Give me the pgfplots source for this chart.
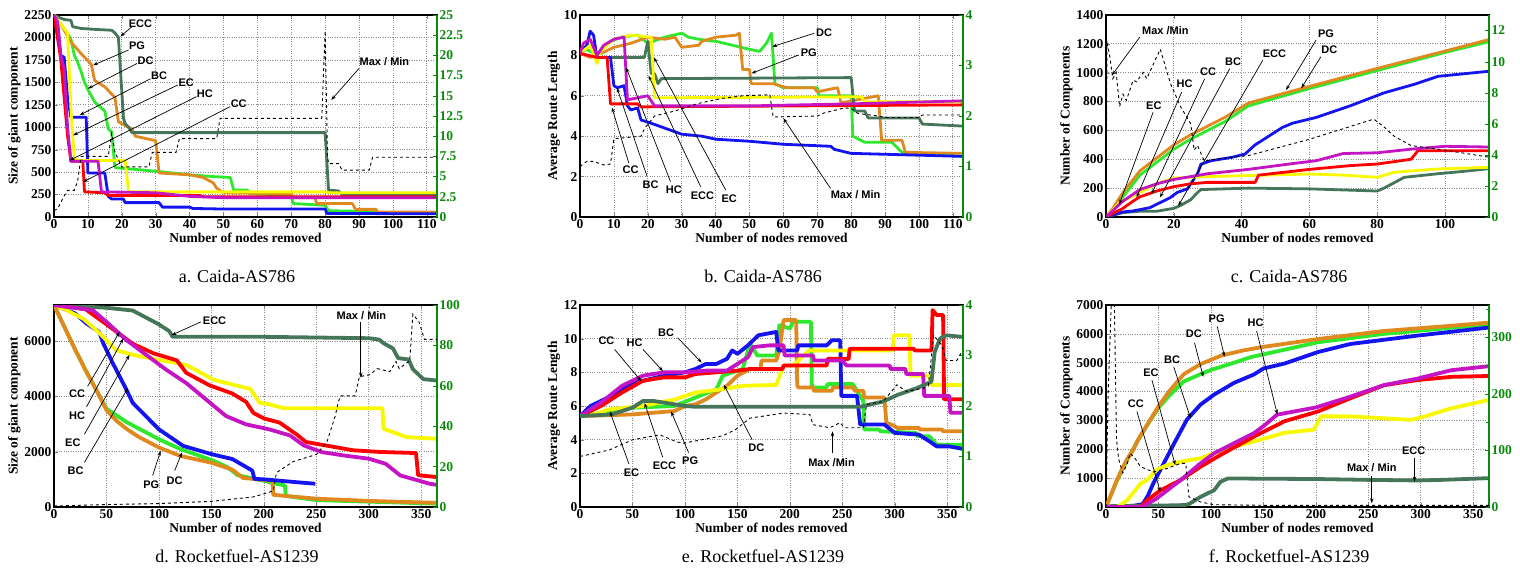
\documentclass[border=0pt]{standalone}
\usepackage{fontspec}
\setmainfont{Liberation Serif}
\newfontfamily\labfont{Liberation Sans}
\usepackage{pgfplots}
\pgfplotsset{compat=1.18}
\usetikzlibrary{arrows.meta}

\definecolor{cECC}{HTML}{46765A}
\definecolor{cPG}{HTML}{E0891E}
\definecolor{cDC}{HTML}{2EE82E}
\definecolor{cBC}{HTML}{1414F0}
\definecolor{cEC}{HTML}{F8F800}
\definecolor{cHC}{HTML}{C414C4}
\definecolor{cCC}{HTML}{FF0000}
\definecolor{rg}{HTML}{0A8A0A}

\newcommand\tk{\bfseries\fontsize{13.5}{13.5}\selectfont}
\newcommand\annfont{\labfont\bfseries\fontsize{11}{11}\selectfont}

\tikzset{
  ar/.style={-{Stealth[length=5pt,width=3.5pt]}, line width=0.7pt},
  lb/.style={font=\annfont, inner sep=1pt},
}
\pgfplotsset{
  base/.style={scale only axis, width=383pt, height=202pt, xmin=0,
    tick label style={font=\tk}, /pgf/number format/assume math mode=true,
    /pgf/number format/1000 sep={}, tick align=inside, major tick length=4pt},
  lefty/.style={base, grid=major, grid style={dotted, black!45, line width=0.7pt},
    axis line style={line width=1.1pt}, ytick pos=left,
    xlabel={Number of nodes removed}, label style={font=\tk},
    xlabel style={yshift=3pt}, ylabel style={yshift=-3pt},
    yticklabel style={xshift=1pt}, xticklabel style={yshift=1pt},
    every axis plot/.append style={line join=round}},
  righty/.style={base, axis y line*=right, axis x line=none, ytick pos=right,
    y axis line style={draw=rg, line width=1.1pt}, yticklabel style={text=rg, xshift=-1pt},
    ytick style={draw=rg}},
  toprow/.style={every axis plot/.append style={line width=2.8pt}},
  botrow/.style={every axis plot/.append style={line width=3.8pt}},
  mm/.style={black, dashed, line width=0.9pt},
}

\begin{document}
\begin{tikzpicture}
\useasboundingbox (0,0) rectangle (1520pt,572pt);

% ---------------- a. Caida-AS786, giant component ----------------
\begin{axis}[lefty, toprow, at={(54pt,355pt)}, anchor=south west,
  xmax=113, ymin=0, ymax=2250, ytick={0,250,...,2250}, xtick={0,10,...,110},
  ylabel={Size of giant component}]
\addplot[cDC] coordinates {(0,2250)(3,2100)(5,1980)(6,1800)(7,1720)(8,1620)(9,1500)(10,1420)(12,1280)(15,1180)(16,980)(17,950)(18,550)(30,510)(40,470)(47,450)(52,440)(53,300)(57,300)(58,260)(70,240)(70.5,150)(80,130)(81,70)(95,60)(96,40)(113,40)};
\addplot[cPG] coordinates {(0,2250)(2,2150)(5,1950)(8,1820)(11,1700)(12,1520)(15,1450)(18,1330)(19,1060)(21,1020)(23,980)(24,900)(30,850)(31,490)(40,470)(44,440)(47,380)(48,320)(50,270)(60,265)(70,260)(70.5,215)(77,215)(77.5,150)(88,150)(89,85)(95,85)(95.5,55)(113,55)};
\addplot[cECC] coordinates {(0,2250)(1,2230)(3,2200)(5,2190)(5.5,2120)(8,2100)(12,2090)(17,2080)(18,2050)(19,2000)(20,1400)(20.5,1100)(21,1040)(22,1000)(23,940)(80,940)(81,300)(84,290)(85,250)(113,250)};
\addplot[cBC] coordinates {(0,2250)(1,2200)(2,1800)(3,1780)(4,1330)(5,1110)(9.5,1110)(10,490)(15,490)(16,230)(17,200)(20.5,200)(21,160)(31,160)(32,110)(40,110)(41,95)(48,90)(80,90)(80.5,40)(113,35)};
\addplot[cEC] coordinates {(0,2250)(4,2050)(5,1200)(6,650)(7,630)(21,630)(22,280)(80,280)(81,270)(113,270)};
\addplot[cCC] coordinates {(0,2250)(2,1750)(4,900)(5,620)(8.5,620)(9,280)(15,270)(16,240)(43,240)(44,225)(113,225)};
\addplot[cHC] coordinates {(0,2250)(1,2180)(2,1800)(3,1650)(4,1000)(5,620)(13,620)(14,280)(30,270)(40,230)(50,215)(80,215)(113,215)};
\draw[ar] (axis cs:23,2120) -- (axis cs:19.6,2010); \node[lb] at (axis cs:25.5,2150) {ECC};
\draw[ar] (axis cs:22,1860) -- (axis cs:11.5,1690); \node[lb] at (axis cs:24.5,1905) {PG};
\draw[ar] (axis cs:24.5,1710) -- (axis cs:10,1430); \node[lb] at (axis cs:27,1740) {DC};
\draw[ar] (axis cs:28.5,1540) -- (axis cs:7.6,1135); \node[lb] at (axis cs:31,1570) {BC};
\draw[ar] (axis cs:36.5,1470) -- (axis cs:5.6,910); \node[lb] at (axis cs:39,1500) {EC};
\draw[ar] (axis cs:42,1340) -- (axis cs:4.6,630); \node[lb] at (axis cs:44.5,1370) {HC};
\draw[ar] (axis cs:52,1230) -- (axis cs:8.6,390); \node[lb] at (axis cs:54.5,1265) {CC};
\draw[ar] (axis cs:90,1655) -- (axis cs:81.8,1303); \node[lb] at (axis cs:97.5,1730) {Max / Min};
\end{axis}
\begin{axis}[righty, at={(54pt,355pt)}, anchor=south west,
  xmax=113, ymin=0, ymax=25, ytick={0,2.5,...,25}]
\addplot[mm] coordinates {(0,0.8)(1,1)(3,2.6)(4,3.3)(6,3.3)(7,4.5)(8,7.5)(16,7.5)(17,10.3)(18,8)(20,6.2)(28,6.2)(29,8)(36,8)(37,9.7)(48,9.7)(49,12.2)(79,12.2)(80,23)(80.7,7.5)(81,6.6)(84,6.6)(85,5.8)(93,5.8)(94,7.4)(113,7.4)};
\end{axis}

% ---------------- b. Caida-AS786, route length ----------------
\begin{axis}[lefty, toprow, at={(580pt,355pt)}, anchor=south west,
  xmax=113, ymin=0, ymax=10, ytick={0,2,...,10}, xtick={0,10,...,110},
  ylabel={Average Route Length}]
\addplot[cDC] coordinates {(0,8.1)(2,8.3)(5,8.0)(8,8.6)(12,8.9)(17,9.0)(20,8.6)(25,8.9)(30,9.1)(32,8.9)(35,8.8)(40,8.7)(45,8.5)(50,8.3)(53,8.2)(55,8.6)(56.5,9.1)(57.5,6.6)(60,6.4)(70,6.4)(70.5,6.0)(80,6.0)(80.5,4.0)(84,3.7)(92,3.7)(95,3.2)(113,3.0)};
\addplot[cPG] coordinates {(0,8.1)(3,7.9)(5,8.0)(10,8.4)(15,8.6)(20,8.9)(25,8.8)(28,8.9)(30,8.4)(35,8.5)(36,8.7)(40,8.9)(46,9.0)(47,9.1)(48,7.3)(50,7.3)(50.5,6.6)(57,6.6)(61,6.4)(69,6.4)(70,6.2)(76,6.4)(77,5.65)(88,6.0)(89,3.8)(95,3.8)(96,3.2)(113,3.15)};
\addplot[cECC] coordinates {(0,8.1)(2,8.5)(4,8.4)(5,7.9)(19,7.9)(20,8.7)(21,7.1)(22,7.1)(23,6.6)(24,6.85)(80,6.9)(81,5.25)(84,5.25)(85,4.9)(100,4.9)(101,4.6)(113,4.5)};
\addplot[cBC] coordinates {(0,8.1)(2,8.5)(3,9.2)(4,9.0)(5,7.9)(9,7.9)(10,6.5)(11,6.4)(13,6.5)(14,5.5)(15,5.3)(17,5.4)(18,4.8)(20,4.7)(25,4.4)(30,4.1)(36,4.0)(40,3.85)(50,3.75)(60,3.6)(74,3.5)(75,3.35)(80,3.15)(113,3.0)};
\addplot[cEC] coordinates {(0,8.1)(3,8.5)(5,7.6)(6,8.2)(10,8.8)(15,9.0)(21,8.9)(22,5.9)(83,5.95)(84,5.7)(113,5.7)};
\addplot[cCC] coordinates {(0,8.1)(5,7.9)(8,7.9)(9,5.6)(17,5.6)(18,5.45)(113,5.55)};
\addplot[cHC] coordinates {(0,8.1)(1,8.6)(3,8.8)(5,8.0)(7,8.5)(10,8.8)(13,8.9)(14,5.8)(17,5.9)(20,6.0)(22,5.5)(50,5.5)(80,5.6)(113,5.75)};
\draw[ar] (axis cs:14.4,2.67) -- (axis cs:9.4,5.42); \node[lb] at (axis cs:14.9,2.33) {CC};
\draw[ar] (axis cs:19.8,2.0) -- (axis cs:10.9,6.4); \node[lb] at (axis cs:20.8,1.6) {BC};
\draw[ar] (axis cs:26.7,1.75) -- (axis cs:13.6,7.4); \node[lb] at (axis cs:27.7,1.33) {HC};
\draw[ar] (axis cs:35.6,1.5) -- (axis cs:20.2,7.0); \node[lb] at (axis cs:36.1,1.05) {ECC};
\draw[ar] (axis cs:43,1.33) -- (axis cs:21.8,7.9); \node[lb] at (axis cs:44,0.92) {EC};
\draw[ar] (axis cs:69,9.09) -- (axis cs:56.7,8.43); \node[lb] at (axis cs:72,9.14) {DC};
\draw[ar] (axis cs:64.5,8.02) -- (axis cs:50.6,7.11); \node[lb] at (axis cs:67.5,8.15) {PG};
\draw[ar] (axis cs:73.9,1.42) -- (axis cs:60,4.89); \node[lb] at (axis cs:81.3,1.09) {Max / Min};
\end{axis}
\begin{axis}[righty, at={(580pt,355pt)}, anchor=south west,
  xmax=113, ymin=0, ymax=4, ytick={0,1,...,4}]
\addplot[mm] coordinates {(0,1.0)(2,1.1)(4,1.1)(7,1.03)(9,1.05)(10,1.55)(18,1.6)(19,1.75)(22,2.0)(28,2.1)(35,2.25)(42,2.35)(48,2.4)(56,2.42)(57,1.98)(70,2.0)(72,2.06)(78,2.16)(80,2.15)(82,2.05)(88,2.0)(90,1.97)(100,1.97)(101,2.02)(113,2.02)};
\end{axis}

% ---------------- c. Caida-AS786, components ----------------
\begin{axis}[lefty, toprow, at={(1106pt,355pt)}, anchor=south west,
  xmax=113, ymin=0, ymax=1400, ytick={0,200,...,1400}, xtick={0,20,...,100},
  ylabel={Number of Components}]
\addplot[cDC] coordinates {(0,0)(2,45)(5,140)(10,290)(15,380)(20,470)(25,540)(30,600)(35,660)(42,770)(60,890)(80,1015)(100,1140)(113,1215)};
\addplot[cPG] coordinates {(0,0)(2,60)(5,170)(10,320)(15,410)(20,500)(25,570)(30,630)(35,690)(42,790)(60,905)(80,1030)(100,1150)(113,1230)};
\addplot[cECC] coordinates {(0,0)(5,30)(10,40)(15,40)(20,60)(22,80)(25,120)(27,170)(28,190)(42,200)(60,195)(80,180)(82,200)(88,275)(98,300)(105,315)(113,335)};
\addplot[cBC] coordinates {(0,0)(5,35)(8,42)(13,65)(16,100)(19,135)(21,170)(24,195)(27,300)(28,366)(31,390)(37,413)(41,436)(44,500)(48,560)(52,620)(55,650)(62,690)(72,770)(82,860)(91,920)(98,975)(113,1010)};
\addplot[cEC] coordinates {(0,0)(4,100)(10,170)(15,230)(20,270)(30,280)(42,287)(60,298)(70,290)(80,275)(85,310)(91,321)(98,333)(113,344)};
\addplot[cCC] coordinates {(0,0)(5,60)(8,110)(10,140)(15,180)(20,210)(25,230)(30,240)(44,240)(45,290)(60,330)(72,356)(80,367)(90,400)(92,459)(113,459)};
\addplot[cHC] coordinates {(0,0)(5,110)(10,190)(15,230)(20,260)(25,280)(30,300)(42,330)(55,370)(62,390)(70,440)(80,445)(90,470)(100,490)(113,485)};
\draw[ar] (axis cs:10,1248) -- (axis cs:1.7,981); \node[lb] at (axis cs:17.5,1295) {Max /Min};
\draw[ar] (axis cs:13.9,726) -- (axis cs:3.9,88); \node[lb] at (axis cs:14.1,773) {EC};
\draw[ar] (axis cs:22.3,865) -- (axis cs:9,135); \node[lb] at (axis cs:23.2,923) {HC};
\draw[ar] (axis cs:29.1,958) -- (axis cs:13.4,158); \node[lb] at (axis cs:30.1,1005) {CC};
\draw[ar] (axis cs:36.5,1028) -- (axis cs:15.9,135); \node[lb] at (axis cs:37.5,1074) {BC};
\draw[ar] (axis cs:46.3,1088) -- (axis cs:21.3,77); \node[lb] at (axis cs:49.7,1134) {ECC};
\draw[ar] (axis cs:62,1227) -- (axis cs:53.1,880); \node[lb] at (axis cs:64.9,1273) {PG};
\draw[ar] (axis cs:63.4,1111) -- (axis cs:57.6,892); \node[lb] at (axis cs:65.9,1157) {DC};
\end{axis}
\begin{axis}[righty, at={(1106pt,355pt)}, anchor=south west,
  xmax=113, ymin=0, ymax=13, ytick={0,2,...,12}]
\addplot[mm] coordinates {(0,0)(0.3,11.2)(1,10.5)(2,8.9)(3,9.3)(4,7.1)(5,7.9)(6,7.5)(8,8.8)(9,8.7)(11,9.3)(12,8.9)(16,10.8)(19,8.6)(22,7.1)(25,6.0)(26,4.3)(27,4.6)(29,3.6)(35,3.8)(42,3.95)(60,5.0)(79,6.3)(82,5.8)(85,5.2)(90,4.6)(100,4.3)(113,3.85)};
\end{axis}

% ---------------- d. Rocketfuel-AS1239, giant component ----------------
\begin{axis}[lefty, botrow, at={(54pt,65pt)}, anchor=south west,
  xmax=365, ymin=0, ymax=7300, ytick={0,2000,...,6000}, xtick={0,50,...,350},
  ylabel={Size of giant component}]
\addplot[cDC] coordinates {(0,7300)(10,6500)(20,5700)(30,4950)(40,4250)(50,3550)(60,3300)(70,3050)(80,2850)(90,2650)(100,2450)(120,2100)(150,1700)(165,1450)(175,1150)(200,950)(210,850)(220,780)(221,400)(250,250)(365,120)};
\addplot[cPG] coordinates {(0,7300)(5,6900)(10,6500)(20,5700)(30,4950)(40,4250)(50,3500)(60,3100)(70,2800)(80,2550)(90,2350)(100,2150)(120,1850)(150,1600)(170,1350)(180,1050)(208,950)(209,440)(250,300)(300,220)(365,150)};
\addplot[cECC] coordinates {(0,7300)(50,7200)(75,7100)(80,7000)(90,6800)(100,6600)(110,6350)(113,6150)(200,6150)(300,6100)(310,6050)(314,5920)(323,5730)(328,5380)(338,5330)(342,4980)(352,4620)(365,4570)};
\addplot[cBC] coordinates {(0,7300)(20,7000)(31,6630)(43,6330)(47,5910)(56,5200)(69,4241)(75,3763)(100,2807)(123,2210)(150,1911)(170,1732)(189,1314)(191,1015)(200,1000)(230,900)(249,840)};
\addplot[cEC] coordinates {(0,7300)(10,7150)(28,6800)(43,6300)(59,5675)(75,5500)(100,5317)(126,5137)(152,4600)(177,4360)(187,4270)(196,3763)(203,3730)(219,3570)(313,3570)(314,2830)(336,2525)(365,2465)};
\addplot[cCC] coordinates {(0,7300)(30,7150)(50,6600)(75,5900)(95,5550)(117,5300)(126,4850)(148,4400)(170,4100)(183,3800)(190,3400)(200,3200)(215,3050)(232,2600)(240,2350)(258,2230)(285,2050)(310,1990)(345,1950)(347,1150)(365,1080)};
\addplot[cHC] coordinates {(0,7300)(37,7110)(50,6690)(69,6033)(88,5495)(107,4958)(126,4480)(145,3883)(164,3285)(183,2986)(205,2807)(225,2585)(238,2225)(255,1985)(276,1863)(300,1745)(316,1563)(330,1140)(347,960)(358,840)(365,800)};
\draw[ar] (axis cs:140,6690) -- (axis cs:112,6210); \node[lb] at (axis cs:153,6750) {ECC};
\draw[ar] (axis cs:32,4360) -- (axis cs:62.5,6330); \node[lb] at (axis cs:22,4086) {CC};
\draw[ar] (axis cs:31,3620) -- (axis cs:66,6090); \node[lb] at (axis cs:22,3310) {HC};
\draw[ar] (axis cs:29,2630) -- (axis cs:72,5500); \node[lb] at (axis cs:18,2306) {EC};
\draw[ar] (axis cs:29,1613) -- (axis cs:70.5,4300); \node[lb] at (axis cs:20.6,1314) {BC};
\draw[ar] (axis cs:94,1135) -- (axis cs:101.6,2030); \node[lb] at (axis cs:92.7,800) {PG};
\draw[ar] (axis cs:115,1314) -- (axis cs:122,1971); \node[lb] at (axis cs:115,955) {DC};
\draw[ar] (axis cs:292.4,6672) -- (axis cs:292.4,4675); \node[lb] at (axis cs:293,6912) {Max / Min};
\end{axis}
\begin{axis}[righty, at={(54pt,65pt)}, anchor=south west,
  xmax=365, ymin=0, ymax=100, ytick={0,20,...,100}]
\addplot[mm] coordinates {(0,0.5)(50,1.2)(100,1.7)(150,2.8)(190,5)(200,6.5)(209,8)(210,11)(212,17)(228,22.5)(250,26)(260,32)(268,45)(271,52)(273,55)(287,55)(291,64.5)(301,65.5)(308,68.5)(320,67)(326,72)(329,68.5)(339,72.5)(342,95.5)(348,91.5)(353,83)(365,83)};
\end{axis}

% ---------------- e. Rocketfuel-AS1239, route length ----------------
\begin{axis}[lefty, botrow, at={(580pt,65pt)}, anchor=south west,
  xmax=365, ymin=0, ymax=12, ytick={0,2,...,12}, xtick={0,50,...,350},
  ylabel={Average Route Length}]
\addplot[cDC] coordinates {(0,5.4)(50,5.9)(90,6.0)(110,6.5)(130,7.0)(136,7.8)(155,8.2)(162,9.7)(169,9.0)(187,9.0)(190,10.8)(200,10.6)(203,11.0)(220,11.0)(221,7.1)(235,7.1)(236,7.3)(260,7.3)(270,6.3)(271,4.6)(285,4.6)(286,4.5)(320,4.4)(322,4.2)(333,4.2)(340,3.7)(365,3.7)};
\addplot[cPG] coordinates {(0,5.4)(50,5.5)(90,5.7)(100,6.0)(110,6.1)(120,6.4)(140,7.2)(150,7.8)(162,8.2)(172,8.2)(173,8.7)(187,8.7)(190,9.3)(194,11.1)(206,11.1)(207,7.25)(208,7.1)(222,7.1)(223,6.9)(240,6.9)(241,7.1)(260,7.1)(262,6.9)(270,6.9)(271,6.5)(290,6.5)(292,5.0)(300,4.8)(302,4.7)(323,4.7)(324,4.6)(345,4.6)(346,4.5)(365,4.5)};
\addplot[cBC] coordinates {(0,5.4)(10,6.0)(20,6.3)(30,6.6)(40,7.0)(50,7.4)(60,7.5)(80,7.8)(100,8.0)(110,8.2)(120,8.5)(130,8.5)(140,8.8)(145,9.3)(150,9.1)(160,9.6)(170,10.2)(187,10.4)(189,9.3)(207,9.3)(208,9.6)(235,9.6)(240,9.9)(248,9.9)(249,6.6)(264,6.6)(267,4.9)(290,4.9)(300,4.4)(323,4.3)(333,3.9)(340,3.6)(352,3.6)(365,3.45)};
\addplot[cEC] coordinates {(0,5.4)(13,5.5)(28,5.8)(60,6.0)(91,6.4)(110,6.8)(136,7.0)(155,7.2)(187,7.25)(194,8.4)(203,8.4)(218,9.3)(298,9.3)(299,10.2)(314,10.2)(315,7.8)(333,7.8)(335,7.25)(365,7.25)};
\addplot[cCC] coordinates {(0,5.4)(20,6.0)(40,6.8)(60,7.5)(80,7.7)(100,7.7)(110,7.9)(130,8.0)(150,8.1)(162,8.2)(193,8.2)(194,8.4)(235,8.4)(236,8.8)(256,8.8)(257,9.4)(318,9.4)(319,9.3)(335,9.3)(336,11.7)(340,11.4)(346,11.4)(347,6.4)(365,6.4)};
\addplot[cHC] coordinates {(0,5.4)(20,6.2)(40,7.2)(60,7.8)(80,8.0)(100,8.0)(120,8.1)(140,8.1)(160,8.9)(165,9.5)(180,9.6)(194,9.6)(195,9.0)(222,9.0)(223,8.7)(250,8.7)(254,8.4)(295,8.4)(296,8.2)(310,8.2)(311,7.9)(327,7.9)(328,6.6)(352,6.6)(353,5.6)(365,5.6)};
\addplot[cECC] coordinates {(0,5.4)(30,5.5)(40,5.7)(50,5.9)(60,6.3)(70,6.3)(80,6.2)(90,6.1)(100,6.0)(110,5.95)(267,5.95)(289,6.27)(303,6.67)(321,7.06)(335,7.45)(338,9.2)(343,10.0)(349,10.2)(365,10.1)};
\draw[ar] (axis cs:33,9.36) -- (axis cs:58.4,7.47); \node[lb] at (axis cs:25.2,9.86) {CC};
\draw[ar] (axis cs:60,9.36) -- (axis cs:79,8.07); \node[lb] at (axis cs:52,9.76) {HC};
\draw[ar] (axis cs:93,10.06) -- (axis cs:116,8.57); \node[lb] at (axis cs:82,10.36) {BC};
\draw[ar] (axis cs:46.7,2.55) -- (axis cs:28.4,5.68); \node[lb] at (axis cs:49,2.03) {EC};
\draw[ar] (axis cs:78.9,2.95) -- (axis cs:61.5,6.18); \node[lb] at (axis cs:80.4,2.43) {ECC};
\draw[ar] (axis cs:103.5,3.23) -- (axis cs:86.8,5.68); \node[lb] at (axis cs:105,2.75) {PG};
\draw[ar] (axis cs:164,4.0) -- (axis cs:137,7.27); \node[lb] at (axis cs:168,3.5) {DC};
\draw[ar] (axis cs:240.6,3.2) -- (axis cs:240.6,4.5); \node[lb] at (axis cs:239.7,2.65) {Max /Min};
\end{axis}
\begin{axis}[righty, at={(580pt,65pt)}, anchor=south west,
  xmax=365, ymin=0, ymax=4, ytick={0,1,...,4}]
\addplot[mm] coordinates {(0,1.0)(28,1.13)(50,1.33)(76,1.43)(91,1.3)(98,1.26)(123,1.36)(136,1.41)(148,1.53)(162,1.76)(194,1.86)(219,1.83)(222,1.63)(238,1.57)(248,1.67)(252,1.57)(270,1.57)(273,2.03)(289,2.09)(302,2.42)(311,2.29)(327,2.35)(332,2.4)(337,3.4)(345,3.2)(349,2.9)(359,2.9)(363,3.04)(365,3.04)};
\end{axis}

% ---------------- f. Rocketfuel-AS1239, components ----------------
\begin{axis}[lefty, botrow, at={(1106pt,65pt)}, anchor=south west,
  xmax=365, ymin=0, ymax=7000, ytick={0,1000,...,7000}, xtick={0,50,...,350},
  ylabel={Number of Components}]
\addplot[cDC] coordinates {(0,0)(10,880)(20,1620)(30,2280)(40,2880)(50,3440)(60,3850)(74,4350)(90,4600)(100,4750)(122,5000)(138,5195)(170,5450)(202,5710)(265,6000)(365,6330)};
\addplot[cPG] coordinates {(0,0)(5,450)(10,900)(15,1300)(20,1650)(26,1980)(30,2300)(40,2900)(50,3490)(60,4000)(74,4600)(90,4950)(110,5250)(130,5420)(150,5550)(202,5820)(265,6100)(329,6280)(365,6390)};
\addplot[cBC] coordinates {(0,0)(20,0)(35,100)(40,400)(45,814)(55,1512)(65,2209)(77,3023)(90,3547)(103,3895)(122,4302)(141,4593)(150,4800)(170,4970)(202,5370)(233,5650)(297,5940)(365,6220)};
\addplot[cECC] coordinates {(0,0)(5,30)(70,60)(77,80)(80,120)(90,350)(103,580)(109,870)(116,990)(150,980)(200,970)(250,940)(297,920)(320,940)(365,1000)};
\addplot[cEC] coordinates {(0,0)(10,0)(13,50)(20,230)(33,814)(39,930)(48,1280)(58,1450)(71,1570)(90,1690)(103,1860)(122,2090)(141,2270)(170,2570)(198,2680)(205,3140)(233,3140)(291,3020)(304,3140)(329,3420)(365,3710)};
\addplot[cCC] coordinates {(0,0)(33,0)(39,230)(52,580)(71,930)(90,1395)(109,1800)(141,2440)(170,2970)(202,3310)(233,3770)(265,4220)(297,4400)(329,4510)(365,4540)};
\addplot[cHC] coordinates {(0,0)(35,0)(39,100)(48,290)(71,930)(90,1510)(103,1860)(122,2210)(141,2560)(150,2800)(163,3200)(200,3450)(233,3825)(265,4225)(297,4450)(329,4740)(365,4880)};
\draw[ar] (axis cs:29.4,3314) -- (axis cs:51.8,523); \node[lb] at (axis cs:28.4,3581) {CC};
\draw[ar] (axis cs:43.8,4395) -- (axis cs:66,1453); \node[lb] at (axis cs:42.8,4651) {EC};
\draw[ar] (axis cs:64.5,4860) -- (axis cs:80.5,3081); \node[lb] at (axis cs:63,5116) {BC};
\draw[ar] (axis cs:84.3,5698) -- (axis cs:92.7,4512); \node[lb] at (axis cs:83.7,5988) {DC};
\draw[ar] (axis cs:106,6256) -- (axis cs:113,5209); \node[lb] at (axis cs:105.4,6512) {PG};
\draw[ar] (axis cs:143.5,6106) -- (axis cs:163.3,3204); \node[lb] at (axis cs:142.6,6398) {HC};
\draw[ar] (axis cs:294,1696) -- (axis cs:294,881); \node[lb] at (axis cs:293.2,1961) {ECC};
\draw[ar] (axis cs:253.3,1080) -- (axis cs:253.3,129); \node[lb] at (axis cs:253.3,1348) {Max / Min};
\end{axis}
\begin{axis}[righty, at={(1106pt,65pt)}, anchor=south west,
  xmax=365, ymin=0, ymax=357, ytick={0,100,200,300}, minor ytick={50,150,250,350}]
\addplot[mm] coordinates {(0,0)(2,200)(5,357)(8,357)(10,120)(12,85)(16,60)(20,75)(23,95)(28,85)(33,71)(45,62)(58,68)(71,77)(76,77)(79,18)(90,9)(103,4)(150,3)(365,3)};
\end{axis}

% ---------------- sub-captions ----------------
\begin{scope}[every node/.style={font=\fontsize{18}{18}\selectfont}]
\node at (237pt,296pt) {a. Caida-AS786};
\node at (763pt,296pt) {b. Caida-AS786};
\node at (1289pt,296pt) {c. Caida-AS786};
\node at (237pt,16pt) {d. Rocketfuel-AS1239};
\node at (763pt,16pt) {e. Rocketfuel-AS1239};
\node at (1289pt,16pt) {f. Rocketfuel-AS1239};
\end{scope}
\end{tikzpicture}
\end{document}
